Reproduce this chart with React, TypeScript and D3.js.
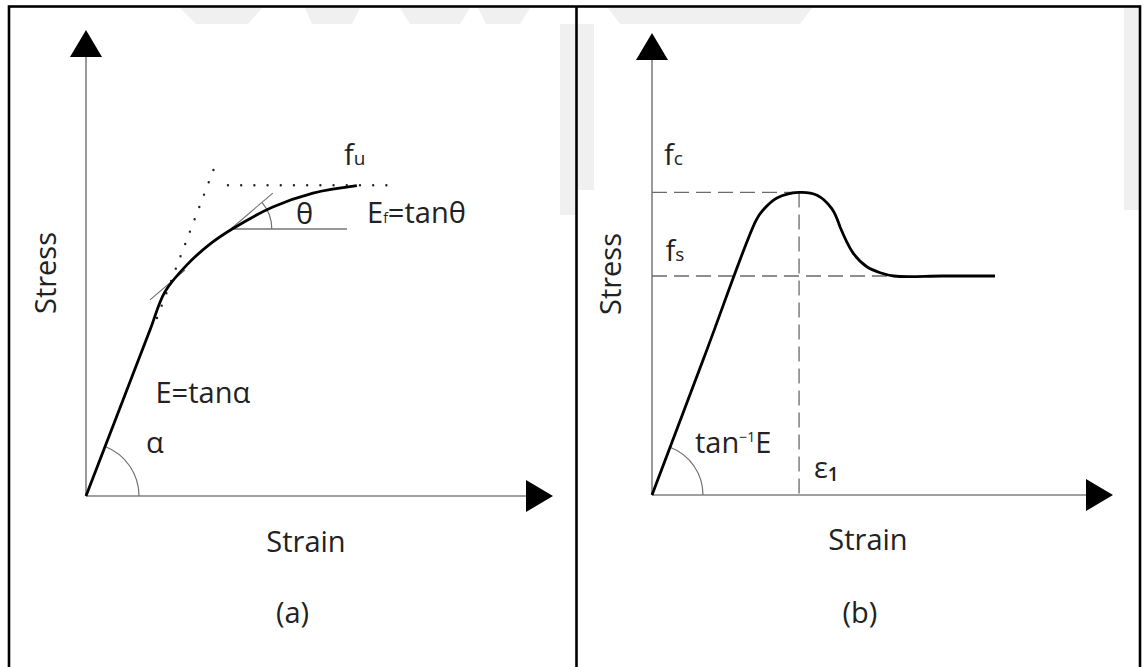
import React from "react";
import * as d3 from "d3";

const W = 1143;
const H = 667;

// ---------- Panel (a): nonlinear stress–strain curve ----------
const curveA: [number, number][] = [
  [0, 0], [0.7, 1.82], [1.37, 3.56], [1.69, 4.38], [2.16, 4.96], [2.66, 5.41],
  [3.13, 5.73], [4.0, 6.2], [4.86, 6.5], [5.8, 6.66],
];
const fuLevel = 6.67;
const fuDotSpan = [3.04, 6.68];
const elasticExtension: [number, number][] = [[1.52, 3.82], [2.81, 7.21]];
const lowerTangent: [number, number][] = [[1.37, 4.21], [2.12, 4.85]];
const upperTangent: [number, number][] = [[3.1, 5.73], [4.0, 6.5]];
const thetaBase: [number, number][] = [[3.1, 5.73], [5.59, 5.73]];
const linearEndA: [number, number] = [1.37, 3.56];

// ---------- Panel (b): softening curve with residual plateau ----------
// the repeated point keeps the small corner where the drop changes curvature
const curveB: [number, number][] = [
  [0, 0], [1.13, 2.98], [2.26, 5.95], [2.41, 6.17], [2.71, 6.43], [3.19, 6.55],
  [3.58, 6.49], [3.9, 6.2], [4.08, 5.8], [4.08, 5.8], [4.36, 5.24], [4.66, 4.94],
  [4.95, 4.81], [5.25, 4.74], [6.3, 4.74], [7.44, 4.74],
];
const fcLevel = 6.55;
const fsLevel = 4.74;
const eps1 = 3.19;
const fsDashEnd = 5.25;

const axisMax = 10;

const FONT = "'Open Sans', 'Noto Sans', sans-serif";
const TXT = "#222";
const AXIS = "#808080";
const THIN = "#707070";

function arcPath(cx: number, cy: number, r: number, angle: number) {
  const p = d3.path();
  p.moveTo(cx + r, cy);
  p.arc(cx, cy, r, 0, -angle, true);
  return p.toString();
}

function Axes({ x, y }: { x: d3.ScaleLinear<number, number>; y: d3.ScaleLinear<number, number> }) {
  const ox = x(0), oy = y(0);
  const tipY = y(axisMax), tipX = x(axisMax);
  const ah = 27, aw = 16;
  return (
    <g>
      <line x1={ox} y1={oy} x2={ox} y2={tipY + ah} stroke={AXIS} strokeWidth={1.6} />
      <line x1={ox} y1={oy} x2={tipX - ah} y2={oy} stroke={AXIS} strokeWidth={1.6} />
      <polygon points={`${ox},${tipY} ${ox - aw},${tipY + ah} ${ox + aw},${tipY + ah}`} fill="#000" />
      <polygon points={`${tipX},${oy} ${tipX - ah},${oy - aw} ${tipX - ah},${oy + aw}`} fill="#000" />
    </g>
  );
}

export default function App() {
  const xA = d3.scaleLinear().domain([0, axisMax]).range([86, 553]);
  const yA = d3.scaleLinear().domain([0, axisMax]).range([496, 30]);
  const xB = d3.scaleLinear().domain([0, axisMax]).range([652, 1113]);
  const yB = d3.scaleLinear().domain([0, axisMax]).range([495, 33]);

  const lineA = d3.line<[number, number]>().x((d) => xA(d[0])).y((d) => yA(d[1])).curve(d3.curveCatmullRom.alpha(0.5));
  const lineB = d3.line<[number, number]>().x((d) => xB(d[0])).y((d) => yB(d[1])).curve(d3.curveCatmullRom.alpha(0.5));
  const segA = d3.line<[number, number]>().x((d) => xA(d[0])).y((d) => yA(d[1]));

  const alpha = Math.atan2(yA(0) - yA(linearEndA[1]), xA(linearEndA[0]) - xA(0));
  const theta = Math.atan2(
    yA(upperTangent[0][1]) - yA(upperTangent[1][1]),
    xA(upperTangent[1][0]) - xA(upperTangent[0][0])
  );
  const alphaB = Math.atan2(yB(0) - yB(curveB[2][1]), xB(curveB[2][0]) - xB(0));

  const dotStyle = { stroke: "#222", strokeWidth: 2.4, strokeLinecap: "round" as const, strokeDasharray: "0 13.2", fill: "none" };
  const dash = { stroke: "#6a6a6a", strokeWidth: 1.3, strokeDasharray: "15 7", fill: "none" };

  return (
    <svg width={W} height={H} style={{ position: "absolute", left: 0, top: 0 }} fontFamily={FONT}>
      <rect x={0} y={0} width={W} height={H} fill="#fff" />
      {/* faint background emblem */}
      <g fill="#f0f0f0">
        <polygon points="180,8 262,8 248,24 196,24" />
        <polygon points="305,8 360,8 352,24 312,24" />
        <polygon points="400,8 470,8 460,24 410,24" />
        <polygon points="478,8 530,8 520,24 486,24" />
        <polygon points="560,24 576,24 576,215 560,215" />
        <polygon points="578,24 594,24 594,190 578,190" />
        <polygon points="608,8 812,8 800,24 620,24" />
        <polygon points="1124,8 1140,8 1140,210 1124,210" />
      </g>
      <rect x={20} y={24} width={540} height={H} fill="#fff" />
      <rect x={594} y={24} width={530} height={H} fill="#fff" />

      {/* frame */}
      <rect x={9} y={6.5} width={1131} height={H + 10} fill="none" stroke="#000" strokeWidth={2.6} />
      <line x1={576.5} y1={6.5} x2={576.5} y2={H} stroke="#000" strokeWidth={2.6} />

      {/* ---- (a) ---- */}
      <Axes x={xA} y={yA} />
      <path d={arcPath(xA(0), yA(0), 53, alpha)} fill="none" stroke={THIN} strokeWidth={1.2} />
      <path d={segA(elasticExtension) ?? ""} {...dotStyle} />
      <path d={segA([[fuDotSpan[0], fuLevel], [fuDotSpan[1], fuLevel]]) ?? ""} {...dotStyle} />
      <path d={segA(lowerTangent) ?? ""} stroke={THIN} strokeWidth={1.1} fill="none" />
      <path d={segA(upperTangent) ?? ""} stroke={THIN} strokeWidth={1.1} fill="none" />
      <path d={segA(thetaBase) ?? ""} stroke="#333" strokeWidth={1.2} fill="none" />
      <path d={arcPath(xA(thetaBase[0][0]), yA(thetaBase[0][1]), 41, theta)} fill="none" stroke={THIN} strokeWidth={1.2} />
      <path d={lineA(curveA) ?? ""} fill="none" stroke="#000" strokeWidth={2.8} strokeLinejoin="round" />

      <g fill={TXT} fontSize={29}>
        <text transform="translate(55.5,273) rotate(-90)" textAnchor="middle">Stress</text>
        <text x={306} y={552} textAnchor="middle">Strain</text>
        <text x={292.5} y={623} textAnchor="middle">(a)</text>
        <text x={344} y={165}>f<tspan fontSize={19}>u</tspan></text>
        <text x={296} y={224}>θ</text>
        <text x={367} y={223}>E<tspan fontSize={14}>f</tspan>=tanθ</text>
        <text x={155.5} y={403}>E=tanα</text>
        <text x={146} y={453}>α</text>
      </g>

      {/* ---- (b) ---- */}
      <Axes x={xB} y={yB} />
      <line x1={xB(0)} y1={yB(fcLevel)} x2={xB(eps1)} y2={yB(fcLevel)} {...dash} />
      <line x1={xB(0)} y1={yB(fsLevel)} x2={xB(fsDashEnd)} y2={yB(fsLevel)} {...dash} />
      <line x1={xB(eps1)} y1={yB(fcLevel)} x2={xB(eps1)} y2={yB(0)} {...dash} />
      <path d={arcPath(xB(0), yB(0), 51, alphaB)} fill="none" stroke={THIN} strokeWidth={1.2} />
      <path d={lineB(curveB) ?? ""} fill="none" stroke="#000" strokeWidth={2.8} strokeLinejoin="round" />

      <g fill={TXT} fontSize={29}>
        <text transform="translate(621,274) rotate(-90)" textAnchor="middle">Stress</text>
        <text x={868} y={550} textAnchor="middle">Strain</text>
        <text x={860} y={623} textAnchor="middle">(b)</text>
        <text x={664} y={165}>f<tspan fontSize={19}>c</tspan></text>
        <text x={665.5} y={261}>f<tspan fontSize={19}>s</tspan></text>
        <text x={695} y={453}>tan<tspan fontSize={14} dy={-11}>−1</tspan><tspan dy={11}>E</tspan></text>
        <text x={814} y={478}>ε<tspan fontSize={19} dy={3} fontWeight={600}>1</tspan></text>
      </g>
    </svg>
  );
}
